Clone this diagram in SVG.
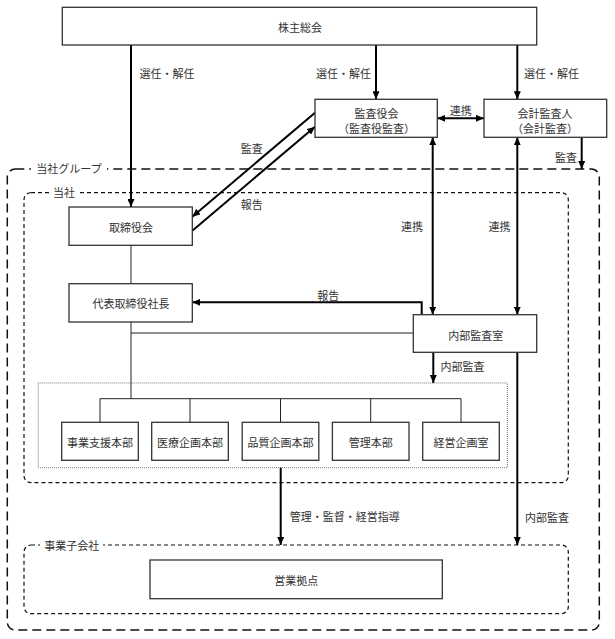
<svg xmlns="http://www.w3.org/2000/svg" width="615" height="639" viewBox="0 0 615 639">
<style>
text{font-family:"Noto Sans CJK JP","Noto Sans",sans-serif;font-size:11px;fill:#333;text-anchor:middle;dominant-baseline:central}
.box{fill:#fff;stroke:#333;stroke-width:1.3}
.arr{fill:none;stroke:#000;stroke-width:2}
.thin{fill:none;stroke:#222;stroke-width:1}
.grp{fill:none;stroke:#111;stroke-width:1.5;stroke-dasharray:9 5}
.co{fill:none;stroke:#111;stroke-width:1.2;stroke-dasharray:4 3}
.dept{fill:none;stroke:#777;stroke-width:1;stroke-dasharray:1 1}
.bg{fill:#fff}
</style>
<defs>
<marker id="ah" viewBox="0 0 8 7" refX="8" refY="3.5" markerWidth="8" markerHeight="7" markerUnits="userSpaceOnUse" orient="auto-start-reverse">
<path d="M0,0 L8,3.5 L0,7 z" fill="#000"/>
</marker>
</defs>

<g id="containers">
<rect class="grp" x="7.3" y="169" width="592" height="461" rx="8"/>
<rect class="bg" x="31" y="162" width="76" height="14"/>
<text x="69" y="168">当社グループ</text>
<rect class="co" x="24" y="192.7" width="544.3" height="290" rx="7"/>
<rect class="bg" x="49" y="186" width="30" height="14"/>
<text x="64" y="192">当社</text>
<rect class="co" x="24" y="545" width="544.3" height="68.7" rx="7"/>
<rect class="bg" x="40" y="538" width="63" height="14"/>
<text x="71.7" y="545">事業子会社</text>
<rect class="dept" x="38.3" y="383" width="469" height="84.7"/>
</g>

<g id="connectors">
<line class="arr" x1="131" y1="45" x2="131" y2="207" marker-end="url(#ah)"/>
<line class="arr" x1="376" y1="45" x2="376" y2="99.3" marker-end="url(#ah)"/>
<line class="arr" x1="517.3" y1="45" x2="517.3" y2="99.3" marker-end="url(#ah)"/>
<line class="arr" x1="437.3" y1="118.3" x2="484" y2="118.3" marker-start="url(#ah)" marker-end="url(#ah)"/>
<line class="arr" x1="315" y1="112.7" x2="192.3" y2="216.7" marker-end="url(#ah)"/>
<line class="arr" x1="192.3" y1="230.7" x2="315" y2="126.7" marker-end="url(#ah)"/>
<line class="arr" x1="581.7" y1="137.3" x2="581.7" y2="169" marker-end="url(#ah)"/>
<line class="arr" x1="432.7" y1="137.3" x2="432.7" y2="314.7" marker-start="url(#ah)" marker-end="url(#ah)"/>
<line class="arr" x1="517.3" y1="137.3" x2="517.3" y2="314.7" marker-start="url(#ah)" marker-end="url(#ah)"/>
<polyline class="arr" points="421.7,314.7 421.7,302.3 192.3,302.3" marker-end="url(#ah)"/>
<line class="arr" x1="433.3" y1="352.3" x2="433.3" y2="383" marker-end="url(#ah)"/>
<line class="arr" x1="517.3" y1="352.3" x2="517.3" y2="545" marker-end="url(#ah)"/>
<line class="arr" x1="280.7" y1="467.7" x2="280.7" y2="545" marker-end="url(#ah)"/>
<line class="thin" x1="131" y1="245.3" x2="131" y2="283.7"/>
<line class="thin" x1="131" y1="322" x2="131" y2="398.7"/>
<line class="thin" x1="131" y1="333" x2="413.3" y2="333"/>
<polyline class="thin" points="100,422.3 100,398.7 461,398.7 461,422.3"/>
<line class="thin" x1="190" y1="398.7" x2="190" y2="422.3"/>
<line class="thin" x1="280.5" y1="398.7" x2="280.5" y2="422.3"/>
<line class="thin" x1="370.7" y1="398.7" x2="370.7" y2="422.3"/>
<text x="167" y="72.7">選任・解任</text>
<text x="343.5" y="72.7">選任・解任</text>
<text x="551.5" y="72.7">選任・解任</text>
<text x="460.7" y="110">連携</text>
<text x="251.7" y="148.3">監査</text>
<text x="251.7" y="204">報告</text>
<text x="566" y="156.7">監査</text>
<text x="412" y="226.3">連携</text>
<text x="499.5" y="226.3">連携</text>
<text x="328.3" y="295.3">報告</text>
<text x="462.5" y="365.7">内部監査</text>
<text x="344.7" y="516">管理・監督・経営指導</text>
<text x="547" y="516.7">内部監査</text>
</g>

<g id="n-shareholders"><rect class="box" x="62.3" y="7.3" width="474.4" height="37.7"/><text x="300" y="27">株主総会</text></g>
<g id="n-kansayakukai"><rect class="box" x="315" y="99.3" width="122.3" height="38"/><text x="376.5" y="112.7">監査役会</text><text x="376.5" y="128.3">（監査役監査）</text></g>
<g id="n-kaikei"><rect class="box" x="484" y="99.3" width="122.7" height="38"/><text x="545" y="112.7">会計監査人</text><text x="545" y="128.3">（会計監査）</text></g>
<g id="n-board"><rect class="box" x="69" y="207" width="123.3" height="38.3"/><text x="131" y="226.5">取締役会</text></g>
<g id="n-president"><rect class="box" x="69" y="283.7" width="123.3" height="38.3"/><text x="131" y="303.3">代表取締役社長</text></g>
<g id="n-internal"><rect class="box" x="413.3" y="314.7" width="123.4" height="37.6"/><text x="475.7" y="335">内部監査室</text></g>
<g id="n-d1"><rect class="box" x="61.7" y="422.3" width="76.6" height="38"/><text x="100" y="442">事業支援本部</text></g>
<g id="n-d2"><rect class="box" x="151.7" y="422.3" width="76.6" height="38"/><text x="190" y="442">医療企画本部</text></g>
<g id="n-d3"><rect class="box" x="242.2" y="422.3" width="76.6" height="38"/><text x="280.5" y="442">品質企画本部</text></g>
<g id="n-d4"><rect class="box" x="332.4" y="422.3" width="76.6" height="38"/><text x="370.7" y="442">管理本部</text></g>
<g id="n-d5"><rect class="box" x="422.7" y="422.3" width="76.6" height="38"/><text x="461" y="442">経営企画室</text></g>
<g id="n-sales"><rect class="box" x="150" y="560" width="292.3" height="38.7"/><text x="296.2" y="580">営業拠点</text></g>
</svg>
